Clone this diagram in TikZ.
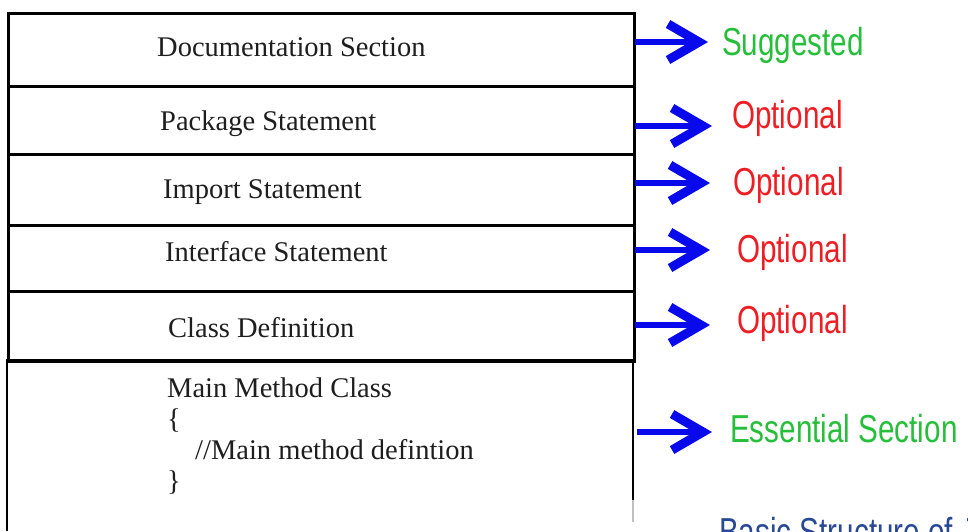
\documentclass[tikz,border=0pt]{standalone}
\usepackage{fontspec}
\setmainfont{Liberation Serif}
\newfontfamily\tagfont[FakeStretch=0.76]{Liberation Sans}
\usetikzlibrary{arrows.meta}
\definecolor{arrowblue}{RGB}{8,10,235}
\definecolor{keepgreen}{RGB}{38,190,58}
\definecolor{optred}{RGB}{238,30,36}
\definecolor{titleblue}{RGB}{40,72,150}
\definecolor{ink}{RGB}{30,30,30}

\begin{document}
\begin{tikzpicture}[x=1pt,y=-1pt,
  frame/.style={draw=black, line width=2.6pt, inner sep=0pt, minimum width=626pt, anchor=north west},
  entry/.style={anchor=base west, inner sep=0pt, font=\fontsize{28.5}{31}\selectfont, text=ink},
  tag/.style={anchor=base west, inner sep=0pt, font=\tagfont\fontsize{39}{40}\selectfont},
  pointer/.style={draw=arrowblue, line width=5.5pt,
    -{Straight Barb[length=31pt, width=36pt, line width=9pt]}}
]
\useasboundingbox (0,0) rectangle (968,531);
\clip (0,0) rectangle (968,531);

% stacked sections of a program file
\node[frame, minimum height=73pt] (docrow)  at (7,12)  {};
\node[frame, minimum height=68pt] (pkgrow)  at (7,85)  {};
\node[frame, minimum height=71pt] (improw)  at (7,153) {};
\node[frame, minimum height=66pt] (ifcrow)  at (7,224) {};
\node[frame, minimum height=70pt] (clsrow)  at (7,290) {};
\draw[black, line width=2.6pt] (7,531) -- (7,360) -- (633,360) -- (633,500);
\draw[black!25, line width=2pt] (633,500) -- (633,522);

% section names
\node[entry] (doctext) at (157,56)  {Documentation Section};
\node[entry] (pkgtext) at (160,130) {Package Statement};
\node[entry] (imptext) at (163,198) {Import Statement};
\node[entry] (ifctext) at (165,261) {Interface Statement};
\node[entry] (clstext) at (168,337) {Class Definition};
\node[entry] (mainA)   at (167,397) {Main Method Class};
\node[entry] (mainB)   at (167,428) {\{};
\node[entry] (mainC)   at (195,459) {//Main method defintion};
\node[entry] (mainD)   at (167,490) {\}};

% status tags
\node[tag, text=keepgreen] (tagdoc) at (722,55)  {Suggested};
\node[tag, text=optred]    (tagpkg) at (732,128) {Optional};
\node[tag, text=optred]    (tagimp) at (733,195) {Optional};
\node[tag, text=optred]    (tagifc) at (737,262) {Optional};
\node[tag, text=optred]    (tagcls) at (737,333) {Optional};
\node[tag, text=keepgreen] (tagmain) at (730,442) {Essential Section};
\node[tag, text=titleblue] (title)  at (719,545) {Basic Structure of Java};

% arrow anchors on the right edge and in front of each tag
\coordinate (s1) at (635,42);  \coordinate (e1) at (708,42);
\coordinate (s2) at (635,126); \coordinate (e2) at (712,126);
\coordinate (s3) at (635,183); \coordinate (e3) at (710,183);
\coordinate (s4) at (635,250); \coordinate (e4) at (710,250);
\coordinate (s5) at (635,325); \coordinate (e5) at (710,325);
\coordinate (s6) at (637,432); \coordinate (e6) at (712,432);

\draw[pointer] (s1) -- (e1);
\draw[pointer] (s2) -- (e2);
\draw[pointer] (s3) -- (e3);
\draw[pointer] (s4) -- (e4);
\draw[pointer] (s5) -- (e5);
\draw[pointer] (s6) -- (e6);
\end{tikzpicture}
\end{document}
